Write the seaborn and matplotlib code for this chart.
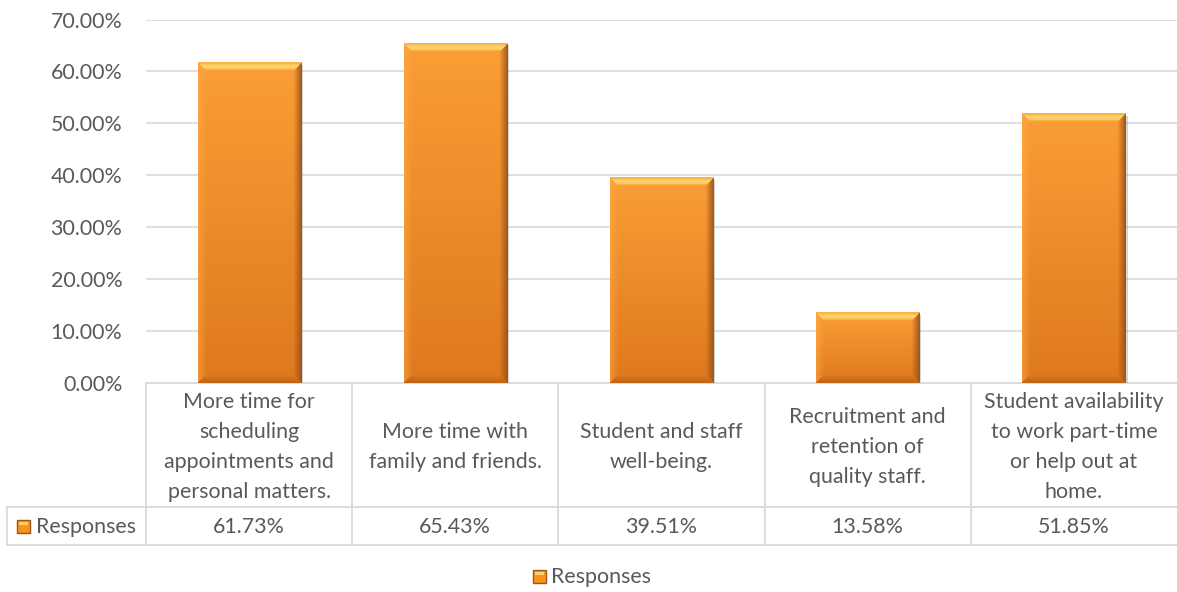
import numpy as np
import pandas as pd
import matplotlib
matplotlib.use("Agg")
import matplotlib.pyplot as plt
import seaborn as sns
from matplotlib.transforms import blended_transform_factory
from matplotlib.patches import Rectangle
from matplotlib import patheffects as pe

# ---- data ----
categories = [
    "More time for\nscheduling\nappointments and\npersonal matters.",
    "More time with\nfamily and friends.",
    "Student and staff\nwell-being.",
    "Recruitment and\nretention of\nquality staff.",
    "Student availability\nto work part-time\nor help out at\nhome.",
]
responses = [61.73, 65.43, 39.51, 13.58, 51.85]
series_name = "Responses"
y_ticks = [0, 10, 20, 30, 40, 50, 60, 70]

# ---- style ----
sns.set_theme(style="white")
plt.rcParams["font.family"] = ["Lato", "DejaVu Sans"]
TEXT = "#595959"
GRID = "#D9D9D9"
FS = 15.4

W, H = 1177, 592
fig = plt.figure(figsize=(W / 100, H / 100), dpi=100)
fig.patch.set_facecolor("white")

# plot area (pixel layout)
top_px, base_px, left_px = 19.5, 383, 146
ax = fig.add_axes([left_px / W, 1 - base_px / H, 1 - left_px / W, (base_px - top_px) / H])

df = pd.DataFrame({"category": categories, "value": responses})
sns.barplot(data=df, x="category", y="value", width=0.5, color="#F7941D",
            saturation=1, ax=ax, zorder=2)

ax.set_xlim(-0.5, len(categories) - 0.5)
ax.set_ylim(0, 70)
ax.set_yticks(y_ticks)
ax.yaxis.set_major_formatter(lambda v, p: f"{v:.2f}%")
ax.set_xticks([])
ax.set_xlabel("")
ax.set_ylabel("")
ax.grid(axis="y", color=GRID, lw=1.2)
ax.set_axisbelow(True)
for s in ax.spines.values():
    s.set_visible(False)
ax.tick_params(axis="y", length=0, pad=17, labelsize=FS, labelcolor=TEXT)


def bevel_image(nw, nh, b=8):
    """RGBA image of an orange bar with a bevelled rim."""
    top = np.array([251, 158, 54]) / 255
    bot = np.array([222, 121, 30]) / 255
    t = np.linspace(0, 1, nh)[:, None, None]
    img = top * (1 - t) + bot * t
    img = np.broadcast_to(img, (nh, nw, 3)).copy()
    ii, jj = np.mgrid[0:nh, 0:nw]
    d_top, d_bot = ii, nh - 1 - ii
    d_left, d_right = jj, nw - 1 - jj
    dmin = np.minimum(np.minimum(d_top, d_bot), np.minimum(d_left, d_right))
    face = np.argmin(np.stack([d_top, d_bot, d_left, d_right]), axis=0)
    rim = dmin < b
    w = np.clip(1 - dmin / b, 0, 1)[..., None]
    light = np.array([255, 216, 110]) / 255
    dark = np.array([150, 78, 20]) / 255
    darkb = np.array([185, 95, 22]) / 255
    soft = np.array([255, 172, 72]) / 255
    # top face: highlight peaking inside the rim
    wt2 = np.sin(np.pi * np.clip(dmin / b, 0, 1)) * 0.95
    wt2 = np.where(rim, np.maximum(wt2, 0.35), 0.0)
    wt = wt2[..., None]
    res = img.copy()
    m = ((face == 0) & rim)[..., None]
    res = np.where(m, img * (1 - wt) + light * wt, res)
    m = ((face == 1) & rim)[..., None]
    res = np.where(m, img * (1 - w * 0.8) + darkb * w * 0.8, res)
    m = ((face == 2) & rim)[..., None]
    res = np.where(m, img * (1 - w * 0.5) + soft * w * 0.5, res)
    m = ((face == 3) & rim)[..., None]
    res = np.where(m, img * (1 - w * 0.85) + dark * w * 0.85, res)
    return np.dstack([res, np.ones((nh, nw))])


for p in ax.patches:
    x0, w, h = p.get_x(), p.get_width(), p.get_height()
    (px0, py0) = ax.transData.transform((x0, 0))
    (px1, py1) = ax.transData.transform((x0 + w, h))
    nw, nh = max(int(round(px1 - px0)), 2), max(int(round(py1 - py0)), 2)
    p.set_edgecolor("none")
    p.set_path_effects([pe.SimplePatchShadow(offset=(1.5, -1.5), shadow_rgbFace="#888888", alpha=0.35),
                        pe.Normal()])
    ax.imshow(bevel_image(nw, nh), extent=(x0, x0 + w, 0, h), aspect="auto",
              zorder=3, interpolation="bilinear")

ax.set_xlim(-0.5, len(categories) - 0.5)
ax.set_ylim(0, 70)

# ---- data table below the plot ----
ov = fig.add_axes([0, 0, 1, 1], zorder=-1)
ov.set_xlim(0, W)
ov.set_ylim(H, 0)
ov.axis("off")
bt = blended_transform_factory(ax.transData, ov.transData)

row_sep, tbl_bot, tbl_left = 507, 545, 7
lw = 1.3
ov.plot([left_px, W], [base_px, base_px], color=GRID, lw=lw)
ov.plot([tbl_left, W], [row_sep, row_sep], color=GRID, lw=lw)
ov.plot([tbl_left, W], [tbl_bot, tbl_bot], color=GRID, lw=lw)
ov.plot([tbl_left, tbl_left], [row_sep, tbl_bot], color=GRID, lw=lw)
ov.plot([left_px, left_px], [base_px, tbl_bot], color=GRID, lw=lw)
for k in range(len(categories) - 1):
    ov.plot([k + 0.5, k + 0.5], [base_px, tbl_bot], color=GRID, lw=lw, transform=bt)

for i, (c, v) in enumerate(zip(categories, responses)):
    ov.text(i, (base_px + row_sep) / 2 + 2, c, transform=bt, ha="center", va="center",
            multialignment="center", fontsize=FS, color=TEXT, linespacing=1.62)
    ov.text(i, (row_sep + tbl_bot) / 2 + 1, f"{v:.2f}%", transform=bt, ha="center",
            va="center", fontsize=FS, color=TEXT)


def legend_key(x, y, s=13):
    ov.add_patch(Rectangle((x, y), s, s, facecolor="#F7941D", edgecolor="#A0561A", lw=1))
    ov.add_patch(Rectangle((x + 2, y + 2), s - 4, 3, facecolor="#FFD36A", edgecolor="none"))


legend_key(17, 520)
ov.text(36, 527, series_name, ha="left", va="center", fontsize=FS, color=TEXT)

legend_key(533, 570)
ov.text(551, 577, series_name, ha="left", va="center", fontsize=FS, color=TEXT)

fig.savefig("out.png", dpi=100, facecolor="white")
